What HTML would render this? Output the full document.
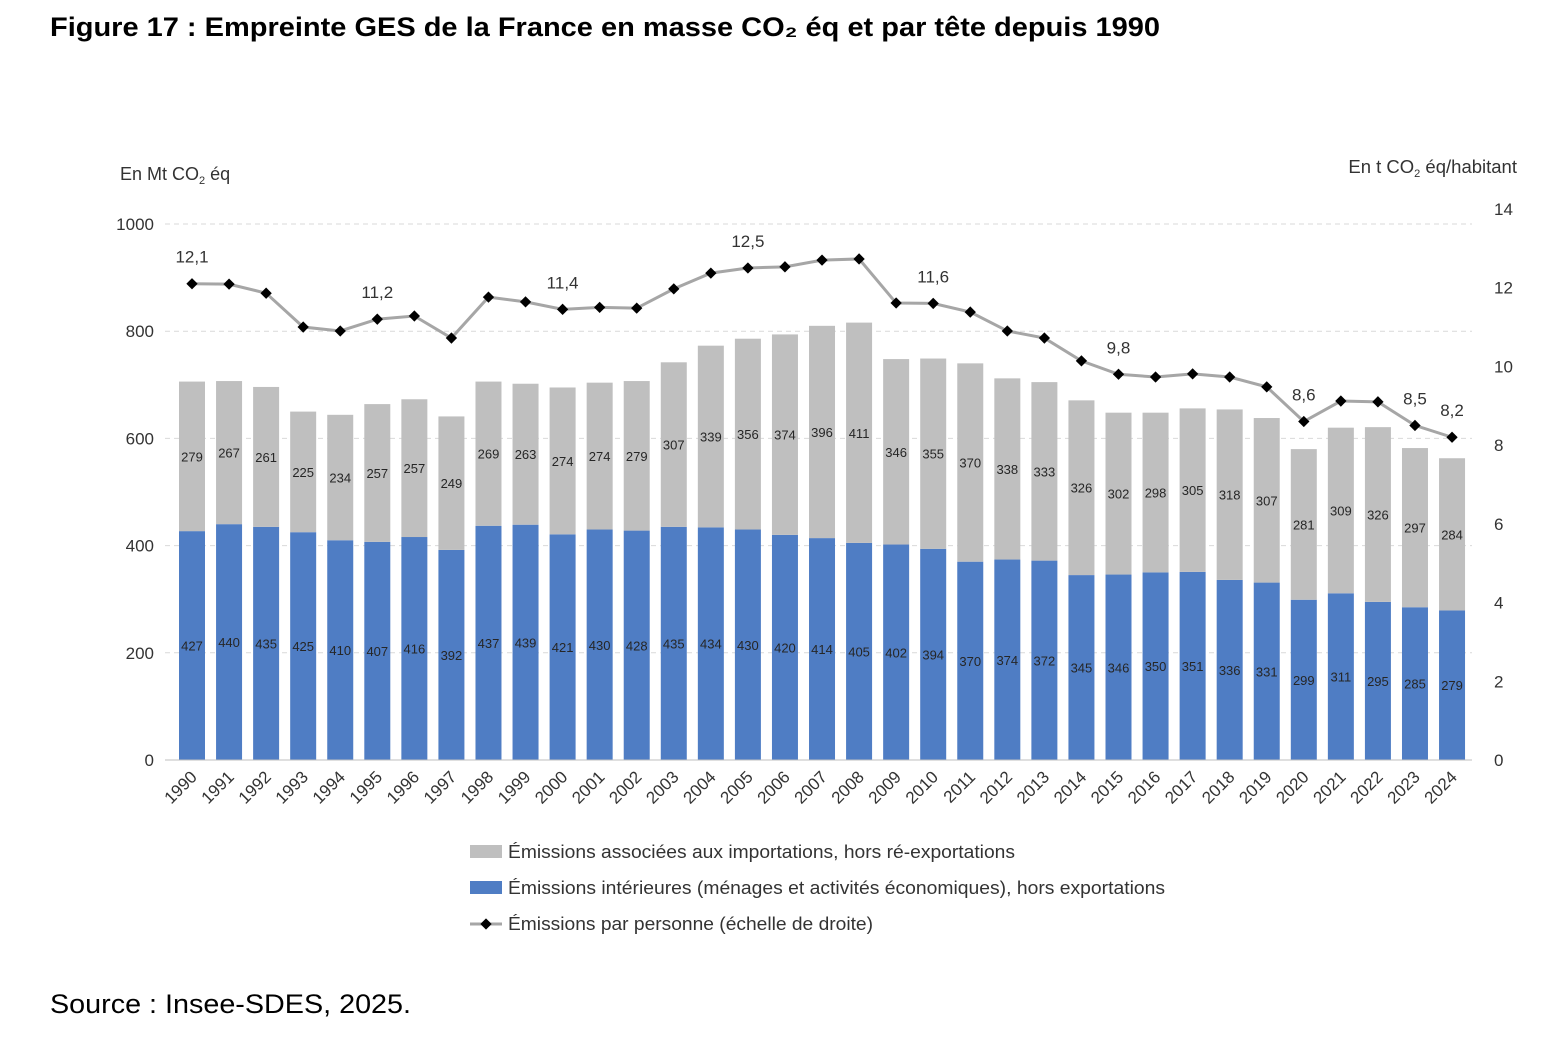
<!DOCTYPE html>
<html><head><meta charset="utf-8"><style>
body{margin:0;background:#fff;}
svg{display:block;font-family:"Liberation Sans",sans-serif;}
</style></head><body>
<svg id="c" width="1560" height="1044" viewBox="0 0 1560 1044">
<text x="50" y="36" font-size="27" font-weight="bold" fill="#000" textLength="1110" lengthAdjust="spacingAndGlyphs">Figure 17 : Empreinte GES de la France en masse CO₂ éq et par tête depuis 1990</text>
<text x="120" y="180" font-size="18" fill="#333">En Mt CO<tspan font-size="11" dy="4">2</tspan><tspan dy="-4"> éq</tspan></text>
<text x="1517" y="173" font-size="18.5" fill="#333" text-anchor="end">En t CO<tspan font-size="11" dy="4">2</tspan><tspan dy="-4"> éq/habitant</tspan></text>
<g id="grid"></g><g id="bars"></g><g id="line"></g><g id="axes"></g>
<g>
<rect x="470" y="845" width="32" height="13" fill="#bfbfbf"/>
<text x="508" y="858" font-size="18" fill="#333" textLength="507" lengthAdjust="spacingAndGlyphs">Émissions associées aux importations, hors ré-exportations</text>
<rect x="470" y="881" width="32" height="13" fill="#4f7dc4"/>
<text x="508" y="894" font-size="18" fill="#333" textLength="657" lengthAdjust="spacingAndGlyphs">Émissions intérieures (ménages et activités économiques), hors exportations</text>
<line x1="470" y1="924" x2="502" y2="924" stroke="#a6a6a6" stroke-width="3"/>
<rect x="482" y="920" width="8" height="8" fill="#000" transform="rotate(45 486 924)"/>
<text x="508" y="930" font-size="18" fill="#333" textLength="365" lengthAdjust="spacingAndGlyphs">Émissions par personne (échelle de droite)</text>
</g>
<text x="50" y="1013" font-size="27" fill="#000" textLength="361" lengthAdjust="spacingAndGlyphs">Source : Insee-SDES, 2025.</text>
</svg>
<script>
const years=[1990,1991,1992,1993,1994,1995,1996,1997,1998,1999,2000,2001,2002,2003,2004,2005,2006,2007,2008,2009,2010,2011,2012,2013,2014,2015,2016,2017,2018,2019,2020,2021,2022,2023,2024];
const domestic=[427,440,435,425,410,407,416,392,437,439,421,430,428,435,434,430,420,414,405,402,394,370,374,372,345,346,350,351,336,331,299,311,295,285,279];
const imports=[279,267,261,225,234,257,257,249,269,263,274,274,279,307,339,356,374,396,411,346,355,370,338,333,326,302,298,305,318,307,281,309,326,297,284];
const perCapita=[12.1,12.09,11.86,11.0,10.9,11.2,11.28,10.72,11.76,11.64,11.45,11.5,11.48,11.97,12.37,12.5,12.53,12.7,12.73,11.61,11.6,11.38,10.9,10.72,10.14,9.8,9.73,9.81,9.73,9.48,8.6,9.12,9.1,8.5,8.2];
const perCapitaLabels={1990:"12,1",1995:"11,2",2000:"11,4",2005:"12,5",2010:"11,6",2015:"9,8",2020:"8,6",2023:"8,5",2024:"8,2"};
const leftTicks=[0,200,400,600,800,1000];
const rightTicks=[0,2,4,6,8,10,12,14];
const NS="http://www.w3.org/2000/svg";
const y0=760,yL=v=>y0-v*0.536,yR=v=>y0-v*39.36,x=i=>192+i*37.06;
function mk(p,t,a){const e=document.createElementNS(NS,t);for(const k in a)e.setAttribute(k,a[k]);p.appendChild(e);return e;}
const grid=document.getElementById('grid'),bars=document.getElementById('bars'),line=document.getElementById('line'),axes=document.getElementById('axes');
leftTicks.forEach(v=>{
  if(v>0){const g=mk(grid,'line',{x1:165,x2:1472,y1:yL(v),y2:yL(v),stroke:'#d9d9d9','stroke-dasharray':'5,4'});
  
  }
  const t=mk(axes,'text',{x:154,y:yL(v)+6,'font-size':17,fill:'#333','text-anchor':'end'});t.textContent=v;
  
  
});
rightTicks.forEach(v=>{
  const t=mk(axes,'text',{x:1494,y:yR(v)+6,'font-size':17,fill:'#333'});t.textContent=v;
  
  
});
const ax=mk(axes,'line',{x1:165,x2:1472,y1:y0,y2:y0,stroke:'#bfbfbf'});


years.forEach((yr,i)=>{
  const cx=x(i),d=domestic[i],m=imports[i];
  const b=mk(bars,'rect',{x:cx-13,y:yL(d),width:26,height:d*0.536,fill:'#4f7dc4'});
  
  
  const g=mk(bars,'rect',{x:cx-13,y:yL(d+m),width:26,height:m*0.536,fill:'#bfbfbf'});
  
  
  const t1=mk(bars,'text',{x:cx,y:yL(d/2)+5,'font-size':13,fill:'#262626','text-anchor':'middle'});t1.textContent=d;
  
  
  const t2=mk(bars,'text',{x:cx,y:yL(d+m/2)+5,'font-size':13,fill:'#262626','text-anchor':'middle'});t2.textContent=m;
  
  
  const tl=mk(axes,'text',{x:cx+6,y:778,'font-size':17,fill:'#333','text-anchor':'end',transform:`rotate(-45 ${cx+6} 778)`});tl.textContent=yr;
  
  
});
const pl=mk(line,'polyline',{points:perCapita.map((v,i)=>x(i)+','+yR(v)).join(' '),fill:'none',stroke:'#a6a6a6','stroke-width':3});


perCapita.forEach((v,i)=>{
  const cx=x(i),cy=yR(v);
  const r=mk(line,'rect',{x:cx-4,y:cy-4,width:8,height:8,fill:'#000',transform:`rotate(45 ${cx} ${cy})`});
  
  
  const lab=perCapitaLabels[years[i]];
  if(lab){const t=mk(line,'text',{x:cx,y:cy-21,'font-size':17,fill:'#333','text-anchor':'middle'});t.textContent=lab;
  
  }
});
</script>
</body></html>
